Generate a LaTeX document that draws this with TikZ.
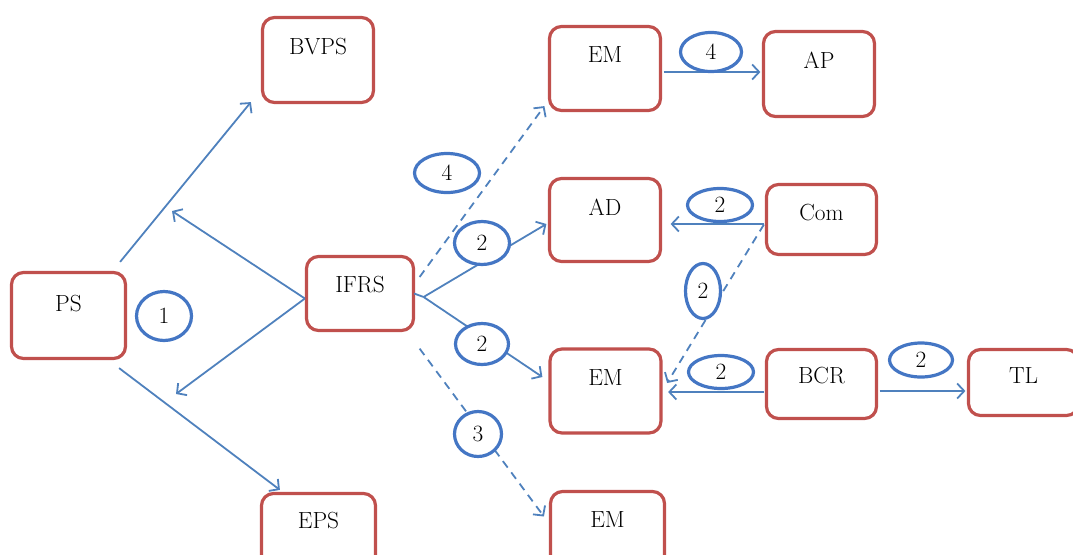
\documentclass[tikz,border=0pt]{standalone}
\usetikzlibrary{arrows.meta,shapes.geometric}
\definecolor{boxred}{RGB}{192,80,77}
\definecolor{lineblue}{RGB}{79,129,189}
\definecolor{ovalblue}{RGB}{68,118,196}
\def\px{0.75pt}
\tikzset{
  box/.style={draw=boxred, line width=3.2*\px, rounded corners=12*\px, fill=white, inner sep=0pt},
  lbl/.style={anchor=base, inner sep=0pt, font=\fontsize{17.5}{20}\selectfont},
  oval/.style={ellipse, draw=ovalblue, line width=3.2*\px, fill=white, inner sep=0pt, font=\fontsize{17.5}{20}\selectfont},
  arr/.style={draw=lineblue, line width=1.8*\px, -{Straight Barb[length=7*\px, width=15*\px, line width=1.8*\px]}},
  darr/.style={arr, dash pattern=on 8*\px off 6*\px},
  ln/.style={draw=lineblue, line width=1.8*\px}
}
\begin{document}
\begin{tikzpicture}[x=0.75pt, y=-0.75pt]
\useasboundingbox (0,0) rectangle (1073,554);
\clip (0,0) rectangle (1073,554);
% boxes
\node[box, minimum width=111*\px, minimum height=85*\px] (bvps) at (318,60) {};
\node[box, minimum width=114*\px, minimum height=86*\px] (ps) at (68.5,315.5) {};
\node[box, minimum width=107*\px, minimum height=74*\px] (ifrs) at (360,293.5) {};
\node[box, minimum width=114*\px, minimum height=88*\px] (eps) at (318.5,537.5) {};
\node[box, minimum width=111*\px, minimum height=84*\px] (em1) at (605,68.5) {};
\node[box, minimum width=111*\px, minimum height=85*\px] (ap) at (819,74) {};
\node[box, minimum width=111*\px, minimum height=83*\px] (ad) at (605,220) {};
\node[box, minimum width=110*\px, minimum height=70*\px] (com) at (821.5,219.5) {};
\node[box, minimum width=111*\px, minimum height=84*\px] (em2) at (605.5,391) {};
\node[box, minimum width=110*\px, minimum height=69*\px] (bcr) at (821.5,384) {};
\node[box, minimum width=110*\px, minimum height=66*\px] (tl) at (1023.5,382.5) {};
\node[box, minimum width=114*\px, minimum height=88*\px] (em3) at (607.5,535.5) {};
% labels
\node[lbl] (bvps-t) at (318,54) {BVPS};
\node[lbl] (ps-t) at (68.5,311) {PS};
\node[lbl] (ifrs-t) at (360,292) {IFRS};
\node[lbl] (eps-t) at (318.5,528) {EPS};
\node[lbl] (em1-t) at (605,62) {EM};
\node[lbl] (ap-t) at (819,68) {AP};
\node[lbl] (ad-t) at (605,215) {AD};
\node[lbl] (com-t) at (821.5,220) {Com};
\node[lbl] (em2-t) at (605.5,385) {EM};
\node[lbl] (bcr-t) at (821.5,383) {BCR};
\node[lbl] (tl-t) at (1023.5,383) {TL};
\node[lbl] (em3-t) at (607.5,527) {EM};
% free ends and fork
\coordinate (pa) at (172,211);
\coordinate (pb) at (176,394);
\coordinate (fork) at ([shift={(8.5,3.5)}]ifrs.east);
% connectors
\draw[arr] ([shift={(-7,-9)}]ps.north east) -- ([shift={(-10,-2)}]bvps.south west);
\draw[arr] ([shift={(0,5)}]ifrs.west) -- (pa);
\draw[arr] ([shift={(0,5)}]ifrs.west) -- (pb);
\draw[arr] ([shift={(-8,8)}]ps.south east) -- ([shift={(20,-2)}]eps.north west);
\draw[darr] ([shift={(4.5,-16.5)}]ifrs.east) -- ([shift={(-3.5,-6)}]em1.south west);
\draw[ln] ([shift={(-1,0)}]ifrs.east) -- (fork);
\draw[arr] (fork) -- ([shift={(-1.5,4)}]ad.west);
\draw[arr] (fork) -- ([shift={(-6,-14)}]em2.west);
\draw[darr] ([shift={(4.5,16.5)}]ifrs.south east) -- ([shift={(-5,-19)}]em3.west);
\draw[darr] ([shift={(-1,5)}]com.west) -- ([shift={(4.5,-8)}]em2.east);
\draw[arr] ([shift={(-1,4.5)}]com.west) -- ([shift={(8.5,4)}]ad.east);
\draw[arr] ([shift={(-1,8)}]bcr.west) -- ([shift={(5.5,1)}]em2.east);
\draw[arr] ([shift={(1.5,7)}]bcr.east) -- ([shift={(-1.5,8.5)}]tl.west);
\draw[arr] ([shift={(1.5,3.5)}]em1.east) -- ([shift={(-1.5,-2)}]ap.west);
% ovals
\node[oval, minimum width=55*\px, minimum height=49*\px] (o1) at (164,316) {1};
\node[oval, minimum width=65*\px, minimum height=39*\px] (o4a) at (447,173) {4};
\node[oval, minimum width=61*\px, minimum height=39*\px] (o4b) at (711,52) {4};
\node[oval, minimum width=55*\px, minimum height=43*\px] (o2a) at (482,243) {2};
\node[oval, minimum width=65*\px, minimum height=33*\px] (o2b) at (720,205) {2};
\node[oval, minimum width=35*\px, minimum height=55*\px] (o2c) at (703,291) {2};
\node[oval, minimum width=53*\px, minimum height=41*\px] (o2d) at (482,344) {2};
\node[oval, minimum width=65*\px, minimum height=33*\px] (o2e) at (721,372) {2};
\node[oval, minimum width=63*\px, minimum height=34*\px] (o2f) at (921,360) {2};
\node[oval, minimum width=47*\px, minimum height=45*\px] (o3) at (478,434) {3};
\end{tikzpicture}
\end{document}
